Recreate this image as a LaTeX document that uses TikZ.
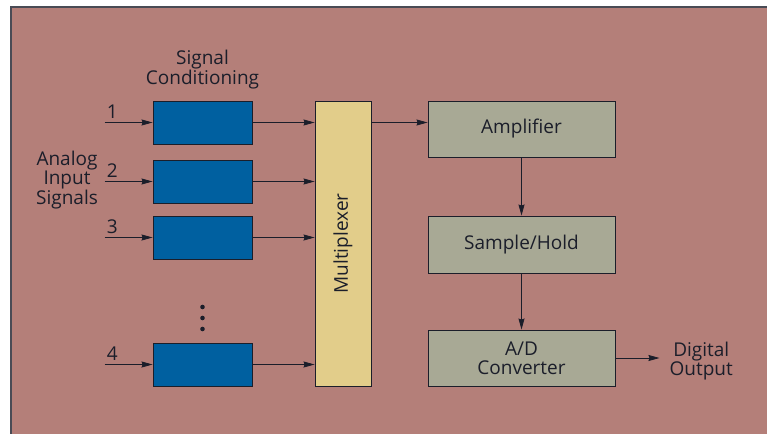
\documentclass[tikz,border=0pt]{standalone}
\usepackage{fontspec}
\setmainfont{Open Sans}
\usepackage{tikz}
\usetikzlibrary{arrows.meta,positioning,calc}
\definecolor{panel}{HTML}{B47F79}
\definecolor{ink}{HTML}{1B1E2A}
\definecolor{condblue}{HTML}{0060A0}
\definecolor{muxyellow}{HTML}{E2CD8A}
\definecolor{stagegray}{HTML}{A8A995}
\tikzset{
  condbox/.style={draw=ink, fill=condblue, line width=0.9pt, minimum width=99pt,
                  minimum height=43pt, inner sep=0pt},
  stage/.style={draw=ink, fill=stagegray, line width=0.9pt, minimum width=187pt,
                minimum height=56pt, inner sep=0pt, align=center, font=\fontsize{19}{19}\selectfont, text=ink},
  arrow/.style={-{Stealth[length=11pt,width=6pt,inset=1pt]}, line width=0.8pt, draw=ink},
  lbl/.style={align=center, font=\fontsize{19}{18.5}\selectfont, text=ink, inner sep=0pt}
}
\begin{document}
\begin{tikzpicture}[x=1pt,y=-1pt]
  \useasboundingbox (0,0) rectangle (767,433);
  \fill[white] (0,0) rectangle (767,433);
  \draw[fill=panel, draw=ink!80, line width=1.4pt] (11,7) rectangle (770,436);

  % signal conditioning column
  \node[condbox] (cond1) at (202.5,122.5) {};
  \node[condbox] (cond2) at (202.5,181.5) {};
  \node[condbox] (cond3) at (202.5,237.5) {};
  \node[condbox] (cond4) at (202.5,364.5) {};
  \node[lbl] (condtitle) at (202.5,70) {Signal\\Conditioning};
  \foreach \y in {307,318,329} {
    \fill[ink] (202.5,\y) circle (2.3pt);
  }

  % inputs
  \node[lbl] (analog) at (67,180) {Analog\\Input\\Signals};
  \foreach \i in {1,...,4} {
    \coordinate (in\i) at ([xshift=-48pt]cond\i.west);
    \draw[arrow] (in\i) -- (cond\i.west);
    \node[lbl, anchor=south west] (num\i) at ([xshift=2pt,yshift=4pt]in\i) {\i};
  }

  % multiplexer
  \node[draw=ink, fill=muxyellow, line width=0.9pt, minimum width=56pt, minimum height=285pt,
        inner sep=0pt] (mux) at (343,243.5) {};
  \node[lbl, rotate=90] (muxlabel) at (mux.center) {Multiplexer};
  \foreach \i in {1,...,4} {
    \draw[arrow] (cond\i.east) -- (mux.west |- cond\i.east);
  }

  % processing chain
  \node[stage] (amp) at (521.5,129) {Amplifier};
  \node[stage, minimum height=57pt] (sh) at (521.5,244.5) {Sample/Hold};
  \node[stage] (adc) at (521.5,358) {A/D\\Converter};
  \draw[arrow] (mux.east |- cond1.east) -- (amp.west |- cond1.east);
  \draw[arrow] (amp) -- (sh);
  \draw[arrow] (sh) -- (adc);
  \coordinate (dout) at ([xshift=44pt]adc.east);
  \draw[arrow] (adc.east) -- (dout);
  \node[lbl, anchor=west] (digital) at ([xshift=10pt,yshift=-3pt]dout) {Digital\\Output};
\end{tikzpicture}
\end{document}
